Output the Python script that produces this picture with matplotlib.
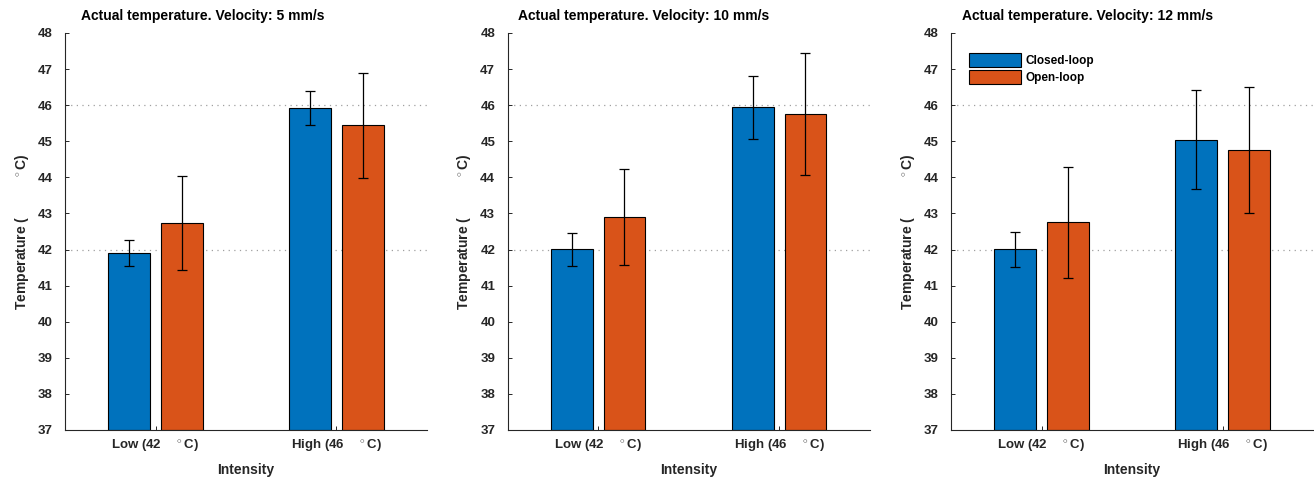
import numpy as np
import matplotlib
matplotlib.use("Agg")
import matplotlib.pyplot as plt

plt.rcParams['font.family'] = ['Liberation Sans', 'DejaVu Sans']
plt.rcParams['mathtext.fontset'] = 'custom'
plt.rcParams['mathtext.rm'] = 'Liberation Sans:bold'
plt.rcParams['mathtext.bf'] = 'Liberation Sans:bold'

# Datos
velocidades = [5, 10, 12]
grupos = ["Low (42", "High (46"]
series = ["Closed-loop", "Open-loop"]

# medias por velocidad: [low, high]
closed_mean = [[41.90, 45.92], [42.01, 45.94], [42.01, 45.04]]
open_mean = [[42.73, 45.44], [42.91, 45.76], [42.75, 44.76]]
# limites de las barras de error (abajo, arriba)
closed_lo = [[41.55, 45.44], [41.55, 45.07], [41.51, 43.68]]
closed_hi = [[42.26, 46.40], [42.45, 46.81], [42.49, 46.41]]
open_lo = [[41.42, 43.99], [41.57, 44.07], [41.21, 43.00]]
open_hi = [[44.04, 46.88], [44.24, 47.44], [44.30, 46.50]]

azul = "#0072BD"
naranja = "#D95319"
gris = "#262626"

fig = plt.figure(figsize=(13.14, 4.78), dpi=100)
izquierdas = [65 / 1314, 507.7 / 1314, 951 / 1314]
desp_titulo = [16, 10, 11]
ancho = 362 / 1314
abajo = 1 - 430 / 478
alto = (430 - 33) / 478

x = np.arange(1, len(grupos) + 1)
w = 0.23
off = 0.145

for k, v in enumerate(velocidades):
    ax = fig.add_axes([izquierdas[k], abajo, ancho, alto])

    # lineas de referencia punteadas
    for yref in [42, 46]:
        ax.axhline(yref, color="#a0a0a0", linestyle=(0, (1, 3.5)), linewidth=0.9, zorder=0)

    cm = np.array(closed_mean[k])
    om = np.array(open_mean[k])
    ax.bar(x - off, cm - 37, w, bottom=37, color=azul, edgecolor="black", linewidth=0.8,
           label=series[0], zorder=2)
    ax.bar(x + off, om - 37, w, bottom=37, color=naranja, edgecolor="black", linewidth=0.8,
           label=series[1], zorder=2)

    err_c = [cm - np.array(closed_lo[k]), np.array(closed_hi[k]) - cm]
    err_o = [om - np.array(open_lo[k]), np.array(open_hi[k]) - om]
    ax.errorbar(x - off, cm, yerr=err_c, fmt="none", ecolor="black", elinewidth=0.9,
                capsize=3.7, capthick=0.9, zorder=3)
    ax.errorbar(x + off, om, yerr=err_o, fmt="none", ecolor="black", elinewidth=0.9,
                capsize=3.7, capthick=0.9, zorder=3)

    ax.set_xlim(0.5, 2.5)
    ax.set_ylim(37, 48)
    ax.set_yticks(np.arange(37, 49, 1))
    ax.set_xticks(x)
    ax.set_xticklabels([g + r"    $^\circ$C)" for g in grupos], fontweight="bold")
    for lab in ax.get_yticklabels():
        lab.set_fontweight("bold")

    ax.tick_params(axis="both", direction="in", length=3, width=0.7, colors=gris,
                   labelsize=9.5, labelcolor=gris)
    ax.tick_params(axis="y", pad=9)
    ax.tick_params(axis="x", pad=5)

    ax.spines["top"].set_visible(False)
    ax.spines["right"].set_visible(False)
    for s in ["left", "bottom"]:
        ax.spines[s].set_color(gris)
        ax.spines[s].set_linewidth(0.8)

    ax.set_xlabel("Intensity", fontsize=10, fontweight="bold", color=gris, labelpad=7)
    ax.set_ylabel(r"Temperature (          $^\circ$C)", fontsize=10, fontweight="bold",
                  color=gris, labelpad=5)

    ax.text(desp_titulo[k] / 362, 1 + 17 / 397, f"Actual temperature. Velocity: {v} mm/s",
            transform=ax.transAxes, fontsize=10, fontweight="bold", color="black",
            ha="left", va="center")

    if k == 2:
        leg = ax.legend(loc="upper left", bbox_to_anchor=(18 / 362, 1 - 20 / 397),
                        frameon=False, borderpad=0, borderaxespad=0,
                        handlelength=4.4, handleheight=1.4, labelspacing=0.3,
                        handletextpad=0.35, prop={"weight": "bold", "size": 8.5})

fig.savefig("out.png", dpi=100)
